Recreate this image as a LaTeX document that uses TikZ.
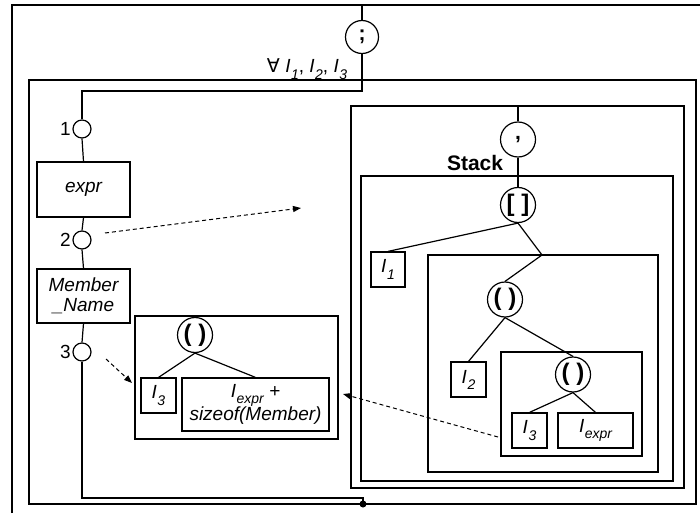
\documentclass[tikz,border=0pt]{standalone}
\usepackage{fontspec}
\setmainfont{Liberation Sans}
\newfontfamily\symfont{DejaVu Sans}
\usetikzlibrary{positioning,arrows.meta}

\newcommand\dsize{\fontsize{19}{20}\selectfont}
\newcommand\sub[1]{\raisebox{-0.32em}{\fontsize{14}{14}\selectfont#1}}
\newcommand\idx[1]{\textit{I\kern0.5pt\sub{#1}}}

\tikzset{
  op/.style={draw,circle,minimum size=35pt,inner sep=0pt,font=\bfseries\fontsize{21}{21}\selectfont},
  paren/.style={op,font=\bfseries\fontsize{24}{24}\selectfont},
  port/.style={draw,circle,minimum size=18pt,inner sep=0pt,font=\dsize},
  leaf/.style={draw,rectangle,inner sep=0pt,align=center,font=\itshape\dsize},
  frame/.style={draw,rectangle,inner sep=0pt},
  flow/.style={line width=1pt,dash pattern=on 4pt off 3pt,-{Triangle[length=8pt,width=6pt]}},
}

\begin{document}
\begin{tikzpicture}[x=1pt,y=-1pt,line width=1.2pt]
  \useasboundingbox (0,0) rectangle (700,513);
  % frames
  \draw (12,513) -- (12,5) -- (700,5);
  \node[frame,minimum width=667pt,minimum height=424pt] (loop) at (362.5,292) {};
  \node[frame,minimum width=333pt,minimum height=382pt] (commabox) at (517.5,297) {};
  \node[frame,minimum width=312pt,minimum height=305pt] (stackbox) at (517,328.5) {};
  \node[frame,minimum width=230pt,minimum height=217pt] (l2box) at (543,363.5) {};
  \node[frame,minimum width=141pt,minimum height=104pt] (inbox) at (571.5,404) {};
  \node[frame,minimum width=203pt,minimum height=123pt] (midbox) at (236.5,377.5) {};
  \node[font=\dsize,anchor=base east] (forall) at (351,73) {{\symfont ∀} \idx{1}, \idx{2}, \idx{3}};
  \node[font=\bfseries\fontsize{21}{21}\selectfont,anchor=base east] (stacklbl) at (507,170) {Stack};

  % left column
  \node[op,minimum size=33pt] (semi) at (362,37) {;};
  \node[port,label={[inner sep=1pt,font=\dsize]left:1}] (p1) at (82,129) {};
  \node[leaf,minimum width=93pt,minimum height=55pt] (expr) at (83.5,189.5) {expr};
  \node[port,label={[inner sep=1pt,font=\dsize]left:2}] (p2) at (82,240) {};
  \node[leaf,minimum width=93pt,minimum height=54pt] (member) at (83.5,296) {Member\\\_Name};
  \node[port,label={[inner sep=1pt,font=\dsize]left:3}] (p3) at (82,352) {};
  \node[circle,fill,inner sep=0pt,minimum size=7pt] (join) at (363,504) {};
  \coordinate (top) at (362,5);
  \coordinate (bend) at (82,91);
  \coordinate (low) at (363,498);
  \draw (top) -- (semi.north);
  \draw (semi.south) -- (semi.south |- bend) -- (bend) -- (p1.north);
  \draw (p1.south) -- (expr.north);
  \draw (expr.south) -- (p2.north);
  \draw (p2.south) -- (member.north);
  \draw (member.south) -- (p3.north);
  \draw (p3.south) |- (low) -- (join.center);

  % result tree
  \node[paren] (paren0) at (195,335) {( )};
  \node[leaf,minimum width=35pt,minimum height=35pt] (i3a) at (158.5,395.5) {\idx{3}};
  \node[leaf,minimum width=147pt,minimum height=53pt,font=\itshape\fontsize{19}{23}\selectfont] (sum) at (255.5,404.5) {\idx{expr} +\\sizeof(Member)};
  \draw (paren0.south) -- (i3a.north);
  \draw (paren0.south) -- (sum.north);

  % stack tree
  \node[op] (comma) at (518,139.5) {,};
  \node[paren] (bracket) at (518,205) {[ ]};
  \node[leaf,minimum width=34pt,minimum height=35pt] (i1) at (388,269.5) {\idx{1}};
  \coordinate (j1) at (542,255);
  \node[paren] (paren1) at (505,299.5) {( )};
  \node[leaf,minimum width=35pt,minimum height=35pt] (i2) at (468.5,379.5) {\idx{2}};
  \node[paren] (paren2) at (573,374.5) {( )};
  \node[leaf,minimum width=35pt,minimum height=35pt] (i3b) at (529.5,430.5) {\idx{3}};
  \node[leaf,minimum width=75pt,minimum height=35pt] (iexpr) at (595.5,430.5) {\idx{expr}};
  \draw (comma.north |- commabox.north) -- (comma.north);
  \draw (comma.south) -- (bracket.north);
  \draw (bracket.south) -- (i1.north);
  \draw (bracket.south) -- (j1) -- (paren1.north);
  \draw (paren1.south) -- (i2.north);
  \draw (paren1.south) -- (paren2.north);
  \draw (paren2.south) -- (i3b.north);
  \draw (paren2.south) -- (iexpr.north);

  % dashed hand-over arrows
  \coordinate (a1s) at (105,233);
  \coordinate (a1e) at (301,208);
  \coordinate (a2s) at (106,359);
  \coordinate (a2e) at (132,383);
  \coordinate (a3s) at (498,437);
  \coordinate (a3e) at (343,394);
  \draw[flow] (a1s) -- (a1e);
  \draw[flow] (a2s) -- (a2e);
  \draw[flow] (a3s) -- (a3e);
\end{tikzpicture}
\end{document}
